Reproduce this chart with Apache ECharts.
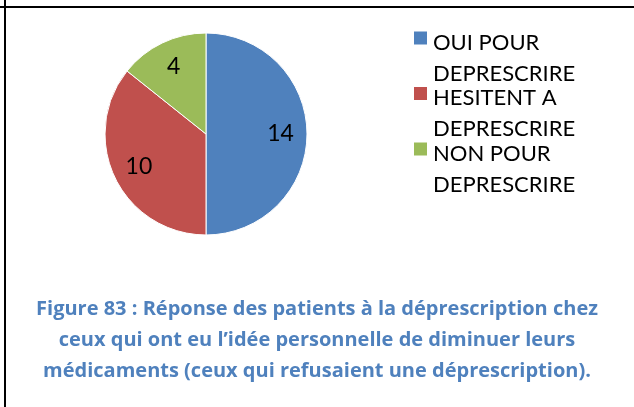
<!DOCTYPE html>
<html>
<head>
<meta charset="utf-8">
<script src="https://cdn.jsdelivr.net/npm/echarts@6/dist/echarts.min.js"></script>
<style>
  html, body { margin: 0; padding: 0; background: #fff; }
  #chart { width: 634px; height: 407px; }
</style>
</head>
<body>
<div id="chart"></div>
<script>
// Responses of patients who had the personal idea of reducing their medication
const categories = ['OUI POUR\nDEPRESCRIRE', 'HESITENT A\nDEPRESCRIRE', 'NON POUR\nDEPRESCRIRE'];
const counts = [14, 10, 4];
const sliceColors = ['#4F81BD', '#C0504D', '#9BBB59'];
const captionLines = [
  'Figure 83 : Réponse des patients à la déprescription chez',
  'ceux qui ont eu l\u2019idée personnelle de diminuer leurs',
  'médicaments (ceux qui refusaient une déprescription).'
];

const pieData = categories.map((name, i) => ({
  name: name,
  value: counts[i],
  itemStyle: { color: sliceColors[i] }
}));

const chart = echarts.init(document.getElementById('chart'), null, { renderer: 'canvas' });

const center = [206, 134];
const outerR = 101;

chart.setOption({
  backgroundColor: '#ffffff',
  animation: false,
  title: {
    text: captionLines.join('\n'),
    left: 'center',
    top: 289,
    textStyle: {
      fontFamily: 'Open Sans',
      fontWeight: 'bold',
      fontSize: 20,
      lineHeight: 31,
      color: '#4F81BD'
    }
  },
  legend: {
    orient: 'vertical',
    left: 412,
    top: -4,
    padding: 0,
    itemWidth: 15,
    itemHeight: 15,
    itemGap: -33,
    icon: 'rect',
    selectedMode: false,
    data: categories,
    // a spacer line above keeps the marker level with the first text line
    formatter: function (name) {
      return '{e| }\n' + name.split('\n').map(s => '{t|' + s + '}').join('\n');
    },
    textStyle: {
      fontFamily: 'Lato',
      fontSize: 22,
      color: '#000',
      rich: {
        e: { fontSize: 22, lineHeight: 40, fontFamily: 'Lato' },
        t: { fontSize: 22, lineHeight: 31, fontFamily: 'Lato', color: '#000' }
      }
    }
  },
  series: [
    {
      type: 'pie',
      center: center,
      radius: [0, outerR],
      startAngle: 90,
      clockwise: true,
      silent: true,
      label: { show: false },
      labelLine: { show: false },
      itemStyle: { borderColor: '#ffffff', borderWidth: 1 },
      data: pieData
    },
    {
      // ring used only to place the value labels further out than mid-radius
      type: 'pie',
      center: center,
      radius: [42, outerR],
      startAngle: 90,
      clockwise: true,
      silent: true,
      itemStyle: { color: 'rgba(0,0,0,0)' },
      label: {
        show: true,
        position: 'inside',
        formatter: '{c}',
        fontFamily: 'Lato',
        fontSize: 23,
        color: '#000'
      },
      labelLine: { show: false },
      data: categories.map((name, i) => ({ name: name, value: counts[i] }))
    }
  ],
  graphic: [
    { type: 'rect', shape: { x: 0, y: 6, width: 634, height: 2 }, style: { fill: '#000' }, silent: true },
    { type: 'rect', shape: { x: 4, y: 0, width: 2, height: 407 }, style: { fill: '#000' }, silent: true }
  ]
});
</script>
</body>
</html>
